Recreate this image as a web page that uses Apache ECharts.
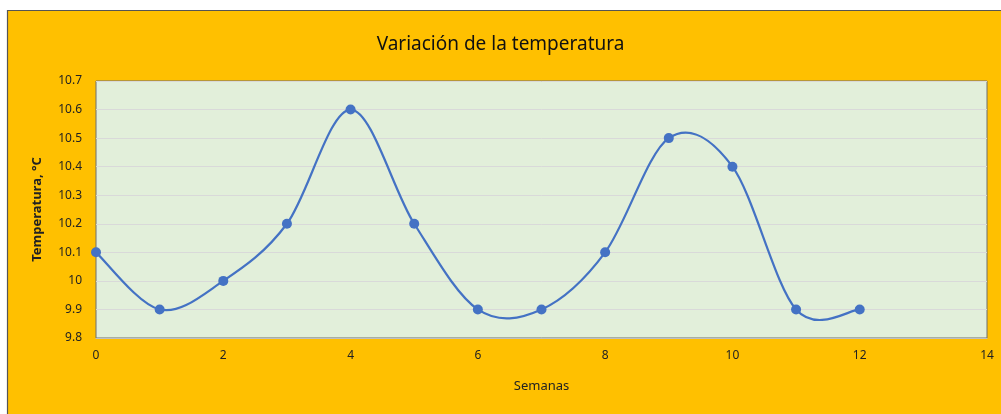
<!DOCTYPE html>
<html>
<head>
<meta charset="utf-8">
<script src="https://cdn.jsdelivr.net/npm/echarts@6/dist/echarts.min.js"></script>
<style>html,body{margin:0;padding:0;background:#fff;}#c{width:1001px;height:414px;}</style>
</head>
<body>
<div id="c"></div>
<script>
const weeks = [0,1,2,3,4,5,6,7,8,9,10,11,12];
const temps = [10.1,9.9,10.0,10.2,10.6,10.2,9.9,9.9,10.1,10.5,10.4,9.9,9.9];
const titleText = 'Variación de la temperatura';
const xName = 'Semanas';
const yName = 'Temperatura, °C';

const points = weeks.map((w, i) => [w, temps[i]]);

// Excel-style smoothed curve (Bezier with 1/6 tangent factor) through the library's coordinates
function renderCurve(params, api) {
  if (params.dataIndex !== 0) return;
  const p = points.map(d => api.coord(d));
  const n = p.length;
  let d = 'M' + p[0][0] + ' ' + p[0][1];
  for (let i = 0; i < n - 1; i++) {
    const p0 = p[Math.max(0, i - 1)], p1 = p[i], p2 = p[i + 1], p3 = p[Math.min(n - 1, i + 2)];
    const c1x = p1[0] + (p2[0] - p0[0]) / 6, c1y = p1[1] + (p2[1] - p0[1]) / 6;
    const c2x = p2[0] - (p3[0] - p1[0]) / 6, c2y = p2[1] - (p3[1] - p1[1]) / 6;
    d += ' C' + c1x + ' ' + c1y + ' ' + c2x + ' ' + c2y + ' ' + p2[0] + ' ' + p2[1];
  }
  return {
    type: 'path',
    shape: {pathData: d},
    style: {fill: 'none', stroke: '#4472C4', lineWidth: 2.2, lineCap: 'round', lineJoin: 'round'}
  };
}

const chart = echarts.init(document.getElementById('c'));
chart.setOption({
  backgroundColor: '#ffffff',
  animation: false,
  graphic: [{
    type: 'rect', z: -10, silent: true,
    shape: {x: 7.5, y: 10.5, width: 1000, height: 410},
    style: {fill: '#FFC000', stroke: '#555', lineWidth: 1.2}
  }],
  title: {
    text: titleText, left: 'center', top: 30,
    textStyle: {fontFamily: 'Noto Sans', fontSize: 19, fontWeight: 'normal', color: '#111'}
  },
  grid: {
    left: 96, right: 14, top: 81, bottom: 76, show: true,
    backgroundColor: '#E2EFDA', borderColor: '#6f6f6f', borderWidth: 1
  },
  xAxis: {
    type: 'value', min: 0, max: 14, interval: 2,
    name: xName, nameLocation: 'middle', nameGap: 42,
    nameTextStyle: {fontFamily: 'Noto Sans', fontSize: 13, color: '#222'},
    axisLine: {show: true, lineStyle: {color: '#BFBFBF', width: 1}},
    axisTick: {show: false},
    splitLine: {show: false},
    axisLabel: {fontFamily: 'Noto Sans', fontSize: 12, color: '#222', margin: 12}
  },
  yAxis: {
    type: 'value', min: 9.8, max: 10.7, interval: 0.1,
    name: yName, nameLocation: 'middle', nameGap: 52,
    nameTextStyle: {fontFamily: 'Noto Sans', fontSize: 13, fontWeight: 'bold', color: '#222'},
    axisLine: {show: false},
    axisTick: {show: false},
    splitLine: {show: true, lineStyle: {color: '#D9D9D9', width: 1}},
    axisLabel: {fontFamily: 'Noto Sans', fontSize: 12, color: '#222', margin: 14,
      formatter: v => String(Math.round(v * 10) / 10)}
  },
  series: [{
    type: 'custom',
    renderItem: renderCurve,
    data: points,
    clip: false,
    z: 2
  }, {
    type: 'scatter',
    data: points,
    symbol: 'circle', symbolSize: 10,
    itemStyle: {color: '#4472C4', opacity: 1},
    z: 3
  }]
});
</script>
</body>
</html>
